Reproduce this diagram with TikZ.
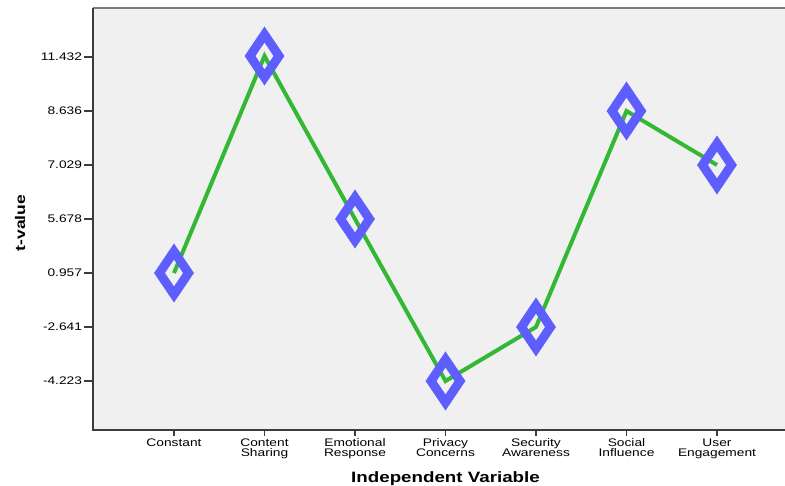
\documentclass[tikz,border=0pt]{standalone}
\usepackage{fontspec}
\setmainfont{Liberation Sans}
\usepackage{tikz}
\usetikzlibrary{shapes.geometric,positioning,backgrounds}
\definecolor{plotbg}	{RGB}	{240,240,240}
\definecolor{linegreen}	{RGB}	{51,184,51}
\definecolor{markblue}	{RGB}	{94,94,255}
\definecolor{axisdark}	{RGB}	{60,60,60}
\definecolor{axisgray}	{RGB}	{125,125,125}

\begin{document}
\begin{tikzpicture}[x=1pt,y=-1pt,
  every node/.append style={inner sep=0pt, outer sep=0pt},
  ticklabel/.style={font=\fontsize{11}{10}\selectfont, xscale=1.25, align=center, text=black},
  marker/.style={diamond, draw=markblue, line width=9pt, minimum width=29pt, minimum height=43pt}
  ]
  \useasboundingbox (0,0) rectangle (785,485);

  \node (constant) [marker] at (174,273) {};
  \node (sharing)  [marker] at (264.5,56) {};
  \node (emotion)  [marker] at (355,219) {};
  \node (privacy)  [marker] at (445.5,381) {};
  \node (security) [marker] at (536,327) {};
  \node (social)   [marker] at (626.5,111) {};
  \node (engage)   [marker] at (717,165) {};

  \begin{scope}[on background layer]
    \fill[plotbg] (93,8) rectangle (785,430);
    \draw[linegreen, line width=4pt] (constant.center) -- (sharing.center) -- (emotion.center)
      -- (privacy.center) -- (security.center) -- (social.center) -- (engage.center);
  \end{scope}

  \draw[axisgray, line width=1.5pt] (93,8) -- (785,8);
  \draw[axisdark, line width=1.2pt] (93,8) -- (93,430) -- (785,430);

  \node (y1) [ticklabel, anchor=east] at (82,57)  {11.432};
  \node (y2) [ticklabel, anchor=east] at (82,111) {8.636};
  \node (y3) [ticklabel, anchor=east] at (82,165) {7.029};
  \node (y4) [ticklabel, anchor=east] at (82,219) {5.678};
  \node (y5) [ticklabel, anchor=east] at (82,273) {0.957};
  \node (y6) [ticklabel, anchor=east] at (82,327) {-2.641};
  \node (y7) [ticklabel, anchor=east] at (82,381) {-4.223};
  \draw[axisdark, line width=1.2pt] (84,57) -- (93,57)  (84,111) -- (93,111)  (84,165) -- (93,165)
    (84,219) -- (93,219)  (84,273) -- (93,273)  (84,327) -- (93,327)  (84,381) -- (93,381);

  \node (x1) [ticklabel, anchor=north] at (174,439)   {Constant};
  \node (x2) [ticklabel, anchor=north] at (264.5,439) {Content\\Sharing};
  \node (x3) [ticklabel, anchor=north] at (355,439)   {Emotional\\Response};
  \node (x4) [ticklabel, anchor=north] at (445.5,439) {Privacy\\Concerns};
  \node (x5) [ticklabel, anchor=north] at (536,439)   {Security\\Awareness};
  \node (x6) [ticklabel, anchor=north] at (626.5,439) {Social\\Influence};
  \node (x7) [ticklabel, anchor=north] at (717,439)   {User\\Engagement};
  \draw[axisdark, line width=1.2pt] (174,430) -- (174,436)  (264.5,430) -- (264.5,436)  (355,430) -- (355,436)
    (445.5,430) -- (445.5,436)  (536,430) -- (536,436)  (626.5,430) -- (626.5,436)  (717,430) -- (717,436);

  \node (xtitle) [font=\bfseries\fontsize{15}{18}\selectfont, xscale=1.25, anchor=base] at (445.5,482.5) {Independent Variable};
  \node (ytitle) [font=\bfseries\fontsize{14}{16}\selectfont, rotate=90, xscale=1.25, anchor=base] at (25,223) {t-value};
\end{tikzpicture}
\end{document}
